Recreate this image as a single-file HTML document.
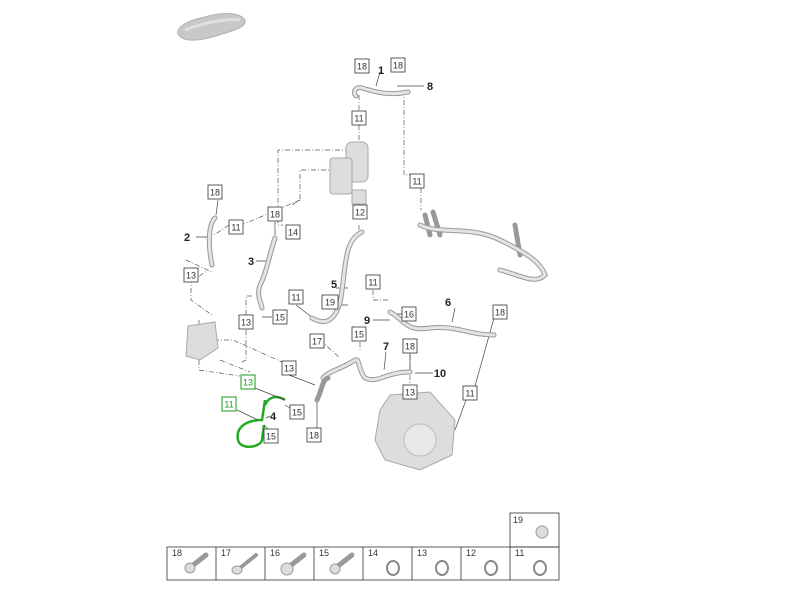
<!DOCTYPE html>
<html><head><meta charset="utf-8"><style>
html,body{margin:0;padding:0;background:#fff;}
svg{display:block;}
text{font-family:"Liberation Sans",sans-serif;}
.b{fill:#fff;stroke:#333;stroke-width:0.8;}
.t{font-size:9px;fill:#333;text-anchor:middle;}
.n{font-size:11px;font-weight:bold;fill:#222;text-anchor:middle;}
.d{stroke:#555;stroke-width:0.7;fill:none;stroke-dasharray:5,2,1,2;}
.l{stroke:#444;stroke-width:0.7;fill:none;}
.p{stroke:#999;stroke-width:5;fill:none;stroke-linecap:round;}
.pi{stroke:#e4e4e4;stroke-width:3;fill:none;stroke-linecap:round;}
.g{fill:#ddd;stroke:#aaa;stroke-width:1;}
.gb{fill:#fff;stroke:#1a9a1a;stroke-width:1;}
.gt{font-size:9px;fill:#1a9a1a;text-anchor:middle;}
</style></head><body>
<svg width="800" height="600" viewBox="0 0 800 600">
<!-- car -->
<path d="M178,34 C176,26 190,20 205,17 C222,12 240,12 245,20 C247,26 236,30 222,34 C205,40 184,44 178,34Z" fill="#c8c8c8" stroke="#b0b0b0"/>
<path d="M185,30 C200,24 225,18 240,20" stroke="#e0e0e0" stroke-width="3" fill="none"/>

<!-- dashed leaders -->
<path class="d" d="M359,95 L359,112 M359,125 L359,150 M404,90 L404,175 L412,175 M421,188 L421,210"/>
<path class="d" d="M350,150 L278,150 L278,225 L283,225 M336,170 L300,170 L300,200 L292,205 M336,170 L336,160"/>
<path class="d" d="M300,200 L244,224 M229,225 L214,235"/>
<path class="d" d="M191,268 L191,300 L212,315 M191,282 L208,270 M186,260 L212,272"/>
<path class="d" d="M246,315 L246,296 L253,296 M246,330 L246,360 L242,362"/>
<path class="d" d="M214,340 L233,340 L282,362 M196,350 L204,350 M199,320 L199,370 L240,376 M220,360 L250,372"/>
<path class="d" d="M359,225 L359,232 M360,342 L360,350 M410,355 L410,385 M410,399 L410,440 M320,340 L340,358"/>
<path class="d" d="M373,290 L373,300 L390,300"/>
<path class="l" d="M296,305 L313,318 M336,288 L348,288 M341,305 L348,305 M373,320 L390,320 M402,314 L397,314 M410,353 L410,372 M415,373 L433,373 M494,318 L475,386 M466,400 L455,430 M289,375 L315,385 M317,400 L317,428 M386,352 L384,370 M455,308 L452,322 M380,72 L376,86 M397,86 L424,86 M218,200 L216,215 M196,237 L212,237 M275,222 L275,235 M256,261 L268,261 M262,317 L272,317"/>

<!-- pipe 1 -->
<path class="p" d="M356,96 C352,92 356,86 362,88 C375,92 390,96 408,92" />
<path class="pi" d="M356,96 C352,92 356,86 362,88 C375,92 390,96 408,92" />
<!-- reservoir -->
<rect x="346" y="142" width="22" height="40" rx="6" class="g"/>
<rect x="330" y="158" width="22" height="36" rx="3" class="g"/>
<rect x="352" y="190" width="14" height="14" class="g"/>
<!-- pipe 2 -->
<path class="p" d="M215,218 C208,225 208,245 212,265" stroke-width="4"/>
<path class="pi" d="M215,218 C208,225 208,245 212,265" stroke-width="2"/>
<!-- pipe 3 -->
<path class="p" d="M275,238 C270,252 266,275 260,285 C256,295 262,305 262,308" stroke-width="4"/>
<path class="pi" d="M275,238 C270,252 266,275 260,285 C256,295 262,305 262,308" stroke-width="2"/>
<!-- pipe 5 -->
<path class="p" d="M362,232 C345,240 346,262 342,290 C340,310 332,330 312,318" stroke-width="4"/>
<path class="pi" d="M362,232 C345,240 346,262 342,290 C340,310 332,330 312,318" stroke-width="2"/>
<!-- harness right -->
<path class="p" d="M420,225 C440,235 470,225 500,240 C520,250 540,260 545,275 C535,285 520,275 500,270 M425,215 L430,235 M433,212 L440,235 M515,225 L520,255" stroke-width="4"/>
<path class="pi" d="M420,225 C440,235 470,225 500,240 C520,250 540,260 545,275 C535,285 520,275 500,270" stroke-width="2"/>
<!-- pipe 6 -->
<path class="p" d="M390,312 C405,320 405,332 430,328 C455,325 470,335 494,335" stroke-width="6"/>
<path class="pi" d="M390,312 C405,320 405,332 430,328 C455,325 470,335 494,335" stroke-width="3"/>
<!-- pipe 7 -->
<path class="p" d="M323,378 C330,370 340,370 355,360 C360,358 358,370 365,378 C378,384 385,372 410,372" stroke-width="7"/>
<path class="pi" d="M323,378 C330,370 340,370 355,360 C360,358 358,370 365,378 C378,384 385,372 410,372" stroke-width="3"/>
<path class="p" d="M317,400 C322,390 322,380 328,378" stroke-width="4"/>
<!-- block left -->
<path d="M188,326 L215,322 L218,348 L200,360 L186,356Z" class="g"/>
<!-- compressor -->
<path d="M390,395 L430,392 L455,420 L452,455 L420,470 L385,460 L375,440 L380,410Z" class="g"/>
<circle cx="420" cy="440" r="16" fill="#e8e8e8" stroke="#bbb"/>
<!-- green pipe 4 -->
<path d="M265,405 C268,398 275,394 285,400 M265,400 L262,420 C250,420 235,425 238,440 C240,450 260,448 262,440 L264,425" stroke="#22aa22" stroke-width="2.5" fill="none"/>
<path class="l" d="M255,388 L285,400 M237,410 L258,420 M285,405 L297,412 M266,418 L270,416 M264,425 L271,432"/>

<!-- boxes -->
<g>
<rect class="b" x="355" y="59" width="14" height="14"/><text class="t" x="362" y="69.5">18</text>
<rect class="b" x="391" y="58" width="14" height="14"/><text class="t" x="398" y="68.5">18</text>
<rect class="b" x="352" y="111" width="14" height="14"/><text class="t" x="359" y="121.5">11</text>
<rect class="b" x="410" y="174" width="14" height="14"/><text class="t" x="417" y="184.5">11</text>
<rect class="b" x="208" y="185" width="14" height="14"/><text class="t" x="215" y="195.5">18</text>
<rect class="b" x="229" y="220" width="14" height="14"/><text class="t" x="236" y="230.5">11</text>
<rect class="b" x="268" y="207" width="14" height="14"/><text class="t" x="275" y="217.5">18</text>
<rect class="b" x="286" y="225" width="14" height="14"/><text class="t" x="293" y="235.5">14</text>
<rect class="b" x="353" y="205" width="14" height="14"/><text class="t" x="360" y="215.5">12</text>
<rect class="b" x="184" y="268" width="14" height="14"/><text class="t" x="191" y="278.5">13</text>
<rect class="b" x="289" y="290" width="14" height="14"/><text class="t" x="296" y="300.5">11</text>
<rect class="b" x="322" y="295" width="16" height="14"/><text class="t" x="330" y="305.5">19</text>
<rect class="b" x="366" y="275" width="14" height="14"/><text class="t" x="373" y="285.5">11</text>
<rect class="b" x="273" y="310" width="14" height="14"/><text class="t" x="280" y="320.5">15</text>
<rect class="b" x="239" y="315" width="14" height="14"/><text class="t" x="246" y="325.5">13</text>
<rect class="b" x="402" y="307" width="14" height="14"/><text class="t" x="409" y="317.5">16</text>
<rect class="b" x="493" y="305" width="14" height="14"/><text class="t" x="500" y="315.5">18</text>
<rect class="b" x="310" y="334" width="14" height="14"/><text class="t" x="317" y="344.5">17</text>
<rect class="b" x="352" y="327" width="14" height="14"/><text class="t" x="359" y="337.5">15</text>
<rect class="b" x="403" y="339" width="14" height="14"/><text class="t" x="410" y="349.5">18</text>
<rect class="b" x="282" y="361" width="14" height="14"/><text class="t" x="289" y="371.5">13</text>
<rect class="b" x="290" y="405" width="14" height="14"/><text class="t" x="297" y="415.5">15</text>
<rect class="b" x="264" y="429" width="14" height="14"/><text class="t" x="271" y="439.5">15</text>
<rect class="b" x="307" y="428" width="14" height="14"/><text class="t" x="314" y="438.5">18</text>
<rect class="b" x="403" y="385" width="14" height="14"/><text class="t" x="410" y="395.5">13</text>
<rect class="b" x="463" y="386" width="14" height="14"/><text class="t" x="470" y="396.5">11</text>
<rect class="gb" x="241" y="375" width="14" height="14"/><text class="gt" x="248" y="385.5">13</text>
<rect class="gb" x="222" y="397" width="14" height="14"/><text class="gt" x="229" y="407.5">11</text>
</g>
<text class="n" x="381" y="74">1</text>
<text class="n" x="430" y="90">8</text>
<text class="n" x="187" y="241">2</text>
<text class="n" x="251" y="265">3</text>
<text class="n" x="334" y="288">5</text>
<text class="n" x="367" y="324">9</text>
<text class="n" x="448" y="306">6</text>
<text class="n" x="386" y="350">7</text>
<text class="n" x="440" y="377">10</text>
<text class="n" x="273" y="420">4</text>

<!-- bottom table -->
<g fill="none" stroke="#333" stroke-width="0.8">
<rect x="510" y="513" width="49" height="34"/>
<rect x="167" y="547" width="392" height="33"/>
<path d="M216,547V580M265,547V580M314,547V580M363,547V580M412,547V580M461,547V580M510,547V580"/>
</g>
<g font-size="9" fill="#333">
<text x="513" y="523">19</text>
<text x="172" y="556">18</text><text x="221" y="556">17</text><text x="270" y="556">16</text><text x="319" y="556">15</text>
<text x="368" y="556">14</text><text x="417" y="556">13</text><text x="466" y="556">12</text><text x="515" y="556">11</text>
</g>
<g stroke="#999" fill="#ddd">
<path d="M192,566 L206,555" stroke-width="5" stroke-linecap="round"/><circle cx="190" cy="568" r="5"/>
<path d="M240,568 L256,555" stroke-width="4" stroke-linecap="round"/><ellipse cx="237" cy="570" rx="5" ry="4"/>
<path d="M290,566 L304,555" stroke-width="5" stroke-linecap="round"/><circle cx="287" cy="569" r="6"/>
<path d="M338,566 L352,555" stroke-width="5" stroke-linecap="round"/><circle cx="335" cy="569" r="5"/>
<circle cx="542" cy="532" r="6"/>
</g>
<g fill="none" stroke="#888" stroke-width="2">
<ellipse cx="393" cy="568" rx="6" ry="7"/><ellipse cx="442" cy="568" rx="6" ry="7"/>
<ellipse cx="491" cy="568" rx="6" ry="7"/><ellipse cx="540" cy="568" rx="6" ry="7"/>
</g>
</svg>
</body></html>
